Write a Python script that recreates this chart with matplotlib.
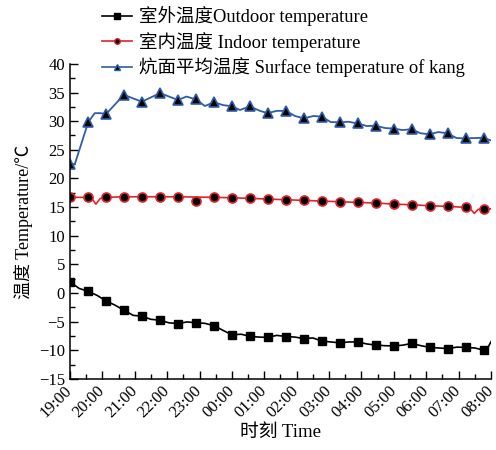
import matplotlib
matplotlib.use("Agg")
import matplotlib.pyplot as plt
from matplotlib.ticker import MultipleLocator

plt.rcParams['font.family'] = ['Liberation Serif', 'Noto Sans CJK SC']
plt.rcParams['axes.unicode_minus'] = True

# minutes after 19:00
hour_labels = ['19:00', '20:00', '21:00', '22:00', '23:00', '00:00', '01:00',
               '02:00', '03:00', '04:00', '05:00', '06:00', '07:00', '08:00']
marker_min = [0, 33, 67, 100, 133, 167, 200, 233, 267, 300, 333, 367,
              400, 433, 467, 500, 533, 567, 600, 633, 667, 700, 733, 767]

outdoor_marks = [1.95, 0.3, -1.4, -3.0, -4.05, -4.75, -5.35, -5.2, -5.7, -7.3,
                 -7.55, -7.75, -7.6, -7.96, -8.4, -8.7, -8.55, -9.1, -9.25,
                 -8.8, -9.5, -9.7, -9.5, -10.0]
indoor_marks = [16.70, 16.70, 16.70, 16.80, 16.80, 16.80, 16.80, 16.10, 16.70,
                16.63, 16.52, 16.40, 16.28, 16.17, 16.05, 15.93, 15.82, 15.70,
                15.52, 15.40, 15.23, 15.12, 14.95, 14.65]
kang_marks = [22.5, 29.85, 31.25, 34.6, 33.4, 34.9, 33.7, 33.8, 33.3, 32.6,
              32.6, 31.4, 31.8, 30.5, 30.8, 29.8, 29.6, 29.2, 28.7, 28.6,
              27.7, 27.9, 27.0, 27.1]

# traced curves
outdoor_t = [0, 17, 33, 50, 67, 83, 100, 117, 133, 150, 167, 183, 200, 217,
             233, 250, 267, 283, 300, 317, 333, 350, 367, 383, 400, 417, 433,
             450, 467, 483, 500, 517, 533, 550, 567, 583, 600, 617, 633, 650,
             667, 683, 700, 717, 733, 750, 767, 772, 780]
outdoor_v = [1.95, 0.8, 0.3, -0.4, -1.4, -2.1, -3.0, -3.9, -4.05, -4.6, -4.75,
             -5.2, -5.35, -5.05, -5.2, -5.3, -5.7, -6.5, -7.3, -7.2, -7.55,
             -7.7, -7.75, -7.4, -7.6, -7.7, -7.96, -7.85, -8.4, -8.55, -8.7,
             -8.55, -8.55, -8.9, -9.1, -9.2, -9.25, -9.1, -8.8, -9.2, -9.5,
             -9.6, -9.7, -9.45, -9.5, -9.6, -10.0, -9.9, -8.5]

indoor_t = [0, 33, 40, 48, 56, 67, 100, 133, 167, 200, 233, 267, 300, 333,
            367, 400, 433, 467, 500, 533, 567, 600, 633, 667, 700, 733, 740,
            749, 756, 767, 780]
indoor_v = [16.70, 16.70, 16.6, 15.5, 16.5, 16.70, 16.80, 16.80, 16.80, 16.80,
            16.75, 16.70, 16.63, 16.52, 16.40, 16.28, 16.17, 16.05, 15.93,
            15.82, 15.70, 15.52, 15.40, 15.23, 15.12, 14.95, 14.85, 13.9,
            14.6, 14.65, 14.7]

kang_t = [0, 9, 34, 46, 56, 67, 100, 133, 167, 200, 216, 233, 250, 267, 284,
          300, 315, 333, 352, 366, 383, 400, 417, 433, 451, 466, 483, 500,
          516, 533, 550, 566, 584, 600, 616, 633, 649, 666, 682, 699, 716,
          732, 748, 766, 781]
kang_v = [22.5, 22.5, 29.85, 31.4, 31.4, 31.25, 34.6, 33.4, 34.9, 33.7, 34.3,
          33.8, 32.65, 33.3, 32.8, 32.6, 31.95, 32.6, 31.8, 31.4, 31.8, 31.8,
          30.9, 30.5, 30.9, 30.8, 29.85, 29.8, 29.9, 29.6, 29.15, 29.2, 28.8,
          28.7, 28.45, 28.6, 27.9, 27.7, 28.1, 27.9, 27.05, 27.0, 27.05,
          27.1, 26.6]

c_out = 'black'
c_in = '#e3232b'
c_kang = '#2f5ca8'

fig = plt.figure(figsize=(4.96, 4.5), dpi=100)
ax = fig.add_axes([0.141, 0.158, 0.849, 0.70])

ax.plot(outdoor_t, outdoor_v, color=c_out, lw=1.2)
ax.plot(marker_min, outdoor_marks, ls='none', marker='s', ms=6,
        mfc='black', mec='black')
ax.plot(indoor_t, indoor_v, color=c_in, lw=1.2)
ax.plot(marker_min, indoor_marks, ls='none', marker='o', ms=6.5,
        mfc='black', mec=c_in, mew=1.2)
ax.plot(kang_t, kang_v, color=c_kang, lw=1.3)
ax.plot(marker_min, kang_marks, ls='none', marker='^', ms=7.5,
        mfc='black', mec=c_kang, mew=1.2)

# legend handles
h1, = ax.plot([], [], color=c_out, lw=1.2, marker='s', ms=4, mfc='black')
h2, = ax.plot([], [], color=c_in, lw=1.2, marker='o', ms=4, mfc='black', mec=c_in)
h3, = ax.plot([], [], color=c_kang, lw=1.2, marker='^', ms=4.5, mfc='black', mec=c_kang)
fig.legend([h1, h2, h3],
           ['室外温度Outdoor temperature', '室内温度 Indoor temperature',
            '炕面平均温度 Surface temperature of kang'],
           loc='upper left', bbox_to_anchor=(0.18, 1.015), frameon=False,
           fontsize=13.3, handlelength=1.6, handletextpad=0.4,
           labelspacing=0.3, borderpad=0.2)

ax.set_xlim(0, 780)
ax.set_ylim(-15, 40)
ax.set_xticks(range(0, 781, 60))
ax.set_xticklabels(hour_labels, rotation=45, ha='right', va='center',
                   rotation_mode='anchor')
ax.xaxis.set_minor_locator(MultipleLocator(30))
ax.yaxis.set_major_locator(MultipleLocator(5))
ax.yaxis.set_minor_locator(MultipleLocator(2.5))
ax.tick_params(which='both', direction='in', labelsize=12, top=False, right=False)
ax.tick_params(which='major', length=6, width=1)
ax.tick_params(which='minor', length=3.5, width=1)
ax.tick_params(axis='x', pad=7)

for side in ['top', 'right']:
    ax.spines[side].set_visible(False)
for side in ['left', 'bottom']:
    ax.spines[side].set_linewidth(1.1)

ax.set_xlabel('时刻 Time', fontsize=13.5, labelpad=2)
ax.set_ylabel('温度 Temperature/℃', fontsize=13, labelpad=4)

fig.savefig('out.png', dpi=100)
